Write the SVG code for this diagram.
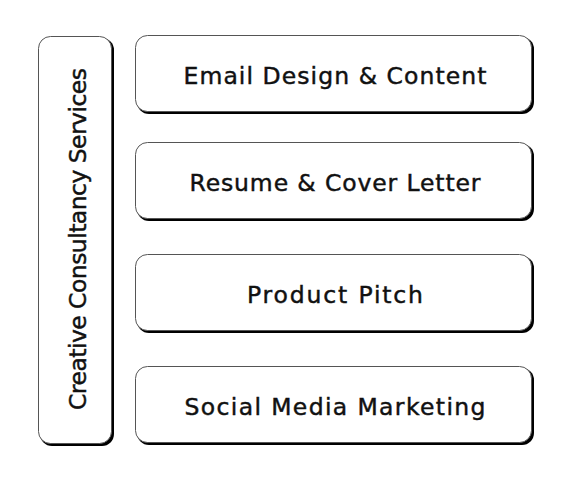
<svg xmlns="http://www.w3.org/2000/svg" width="570" height="480" viewBox="0 0 570 480">
<style>
.sh{fill:#000}
.bx{fill:#fff;stroke:#555;stroke-width:1}
.t{font-family:"DejaVu Sans","Liberation Sans",sans-serif;font-size:23.5px;fill:#111;stroke:#111;stroke-width:0.45;text-anchor:middle;dominant-baseline:central}
</style>
<rect width="570" height="480" fill="#fff"/>
<g id="side">
<rect class="sh" x="40" y="38" width="74" height="408" rx="12"/>
<rect class="bx" x="38.5" y="36.5" width="73" height="407" rx="12"/>
<text class="t" transform="translate(78,239) rotate(-90)" textLength="342" lengthAdjust="spacing">Creative Consultancy Services</text>
</g>
<g id="n1">
<rect class="sh" x="137" y="37" width="397" height="77" rx="12"/>
<rect class="bx" x="135.5" y="35.5" width="396" height="76" rx="12"/>
<text class="t" x="335" y="76" textLength="303" lengthAdjust="spacing">Email Design &amp; Content</text>
</g>
<g id="n2">
<rect class="sh" x="137" y="144" width="397" height="77" rx="12"/>
<rect class="bx" x="135.5" y="142.5" width="396" height="76" rx="12"/>
<text class="t" x="335" y="183" textLength="291" lengthAdjust="spacing">Resume &amp; Cover Letter</text>
</g>
<g id="n3">
<rect class="sh" x="137" y="256" width="397" height="77" rx="12"/>
<rect class="bx" x="135.5" y="254.5" width="396" height="76" rx="12"/>
<text class="t" x="335" y="295" textLength="176" lengthAdjust="spacing">Product Pitch</text>
</g>
<g id="n4">
<rect class="sh" x="137" y="368" width="397" height="77" rx="12"/>
<rect class="bx" x="135.5" y="366.5" width="396" height="76" rx="12"/>
<text class="t" x="335" y="407" textLength="301" lengthAdjust="spacing">Social Media Marketing</text>
</g>
<g id="connectors"></g>
</svg>
